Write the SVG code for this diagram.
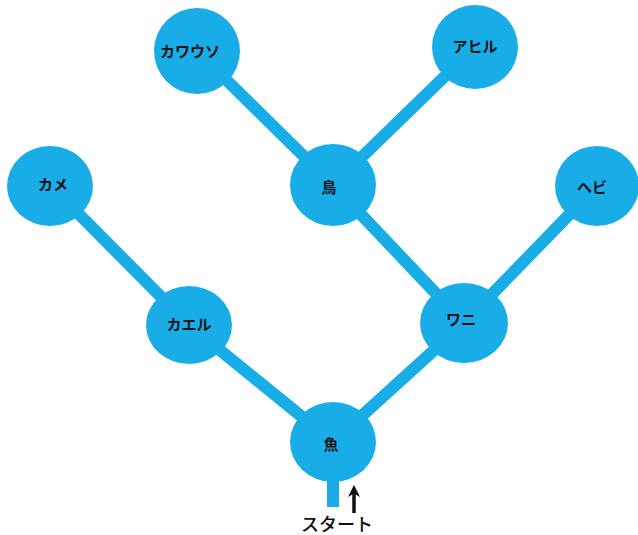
<svg xmlns="http://www.w3.org/2000/svg" width="638" height="535" viewBox="0 0 638 535">
<style>
.edge{stroke:#19ade8;stroke-width:12;fill:none}
.node ellipse{fill:#19ade8}
.node text{font-family:"Noto Sans CJK JP","Noto Sans",sans-serif;font-size:15px;font-weight:bold;fill:#111;text-anchor:middle;dominant-baseline:central}
.label{font-family:"Noto Sans CJK JP","Noto Sans",sans-serif;font-size:18px;font-weight:500;fill:#111;text-anchor:middle;dominant-baseline:central}
</style>
<defs>
<marker id="ah" viewBox="0 0 10 10" refX="5" refY="5" markerWidth="3.5" markerHeight="3.5" orient="auto-start-reverse" markerUnits="strokeWidth">
<path d="M0,0 L10,5 L0,10 L3,5 Z" fill="#111"/>
</marker>
</defs>
<rect width="638" height="535" fill="#fff"/>
<g id="connectors">
<line class="edge" x1="50" y1="185" x2="189" y2="325"/>
<line class="edge" x1="189" y1="325" x2="333" y2="442"/>
<line class="edge" x1="333" y1="442" x2="464" y2="323"/>
<line class="edge" x1="464" y1="323" x2="333" y2="185"/>
<line class="edge" x1="464" y1="323" x2="597" y2="186"/>
<line class="edge" x1="333" y1="185" x2="197" y2="51"/>
<line class="edge" x1="333" y1="185" x2="475" y2="47"/>
<line class="edge" x1="333" y1="442" x2="333" y2="507"/>
<line x1="354" y1="513" x2="354" y2="491" stroke="#111" stroke-width="3.5" marker-end="url(#ah)"/>
</g>
<g id="kawauso" class="node"><ellipse cx="197" cy="51" rx="43" ry="43"/><text x="190" y="50">カワウソ</text></g>
<g id="ahiru" class="node"><ellipse cx="475" cy="47" rx="43" ry="42"/><text x="475" y="45">アヒル</text></g>
<g id="kame" class="node"><ellipse cx="50" cy="186" rx="43" ry="40"/><text x="53" y="183">カメ</text></g>
<g id="tori" class="node"><ellipse cx="333" cy="185" rx="43" ry="41"/><text x="329" y="186">鳥</text></g>
<g id="hebi" class="node"><ellipse cx="597" cy="186" rx="42" ry="40"/><text x="592" y="186">ヘビ</text></g>
<g id="kaeru" class="node"><ellipse cx="189" cy="325" rx="43" ry="39"/><text x="189" y="323">カエル</text></g>
<g id="wani" class="node"><ellipse cx="464" cy="323" rx="44" ry="40"/><text x="461" y="318">ワニ</text></g>
<g id="sakana" class="node"><ellipse cx="333" cy="442" rx="43" ry="40"/><text x="331" y="443">魚</text></g>
<text class="label" x="337" y="523">スタート</text>
</svg>
